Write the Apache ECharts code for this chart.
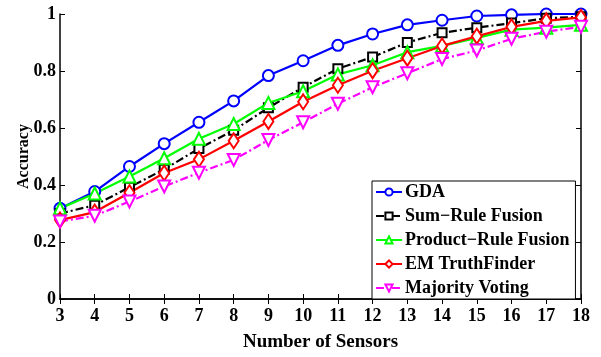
<!DOCTYPE html>
<html>
<head>
<meta charset="utf-8">
<script src="https://cdn.jsdelivr.net/npm/echarts@6/dist/echarts.min.js"></script>
<style>html,body{margin:0;padding:0;background:#fff}#c{width:601px;height:357px}</style>
</head>
<body>
<div id="c"></div>
<script>
var sensors = [3,4,5,6,7,8,9,10,11,12,13,14,15,16,17,18];
var gda      = [0.318,0.377,0.465,0.545,0.62,0.695,0.784,0.836,0.89,0.93,0.962,0.978,0.993,0.997,1.0,1.0];
var sumRule  = [0.300,0.329,0.392,0.455,0.528,0.592,0.671,0.743,0.808,0.849,0.900,0.934,0.952,0.968,0.985,0.990];
var product  = [0.318,0.370,0.430,0.494,0.562,0.614,0.688,0.729,0.788,0.820,0.866,0.888,0.916,0.945,0.952,0.962];
var emTF     = [0.277,0.305,0.373,0.442,0.490,0.555,0.623,0.692,0.750,0.801,0.845,0.888,0.922,0.955,0.976,0.988];
var majority = [0.272,0.292,0.342,0.395,0.443,0.488,0.558,0.620,0.685,0.743,0.792,0.842,0.872,0.913,0.938,0.955];
var yTicks = [0,0.2,0.4,0.6,0.8,1];
var seriesNames = ['GDA','Sum\u2212Rule Fusion','Product\u2212Rule Fusion','EM TruthFinder','Majority Voting'];

var font = '"Liberation Serif", "Times New Roman", serif';
function mk(name, data, color, symbol, size, dash, rot){
  return {
    name: name, type: 'line', data: data.map(function(v,i){return [sensors[i], v];}),
    symbol: symbol, symbolSize: size, symbolRotate: rot || 0, showAllSymbol: true,
    lineStyle: {color: color, width: 2.2, type: dash},
    itemStyle: {color: color, borderColor: color, borderWidth: 2},
    emphasis: {disabled: true}, animation: false
  };
}
var chart = echarts.init(document.getElementById('c'), null, {renderer:'canvas'});
var axisCommon = {
  axisLine: {show: true, lineStyle: {color: '#000', width: 1.5}},
  axisTick: {show: true, inside: true, length: 5, lineStyle: {color: '#000', width: 1}},
  splitLine: {show: false}
};
chart.setOption({
  backgroundColor: '#fff',
  animation: false,
  grid: {left: 60, right: 20, top: 14, bottom: 51},
  xAxis: [
    Object.assign({type: 'value', min: 3, max: 18, interval: 1, position: 'bottom',
      name: 'Number of Sensors', nameLocation: 'middle', nameGap: 34, nameMoveOverlap: false,
      nameTextStyle: {fontFamily: font, fontWeight: 'bold', fontSize: 19, color: '#000'},
      axisLabel: {fontFamily: font, fontWeight: 'bold', fontSize: 18, color: '#000', margin: 8}}, axisCommon),
    Object.assign({type: 'value', min: 3, max: 18, interval: 1, position: 'top',
      axisLabel: {show: false}}, axisCommon)
  ],
  yAxis: [
    Object.assign({type: 'value', min: 0, max: 1, interval: 0.2, position: 'left',
      name: 'Accuracy', nameLocation: 'middle', nameGap: 28, nameRotate: 90, nameMoveOverlap: false,
      nameTextStyle: {fontFamily: font, fontWeight: 'bold', fontSize: 16, color: '#000'},
      axisLabel: {fontFamily: font, fontWeight: 'bold', fontSize: 18, color: '#000', margin: 4,
        formatter: function(v){ return String(+v.toFixed(1)); }}}, axisCommon),
    Object.assign({type: 'value', min: 0, max: 1, interval: 0.2, position: 'right',
      axisLabel: {show: false}}, axisCommon)
  ],
  legend: {
    orient: 'vertical', left: 372, top: 181,
    backgroundColor: '#fff', borderColor: '#000', borderWidth: 1,
    padding: [2, 6, 2, 3], itemGap: 6, itemWidth: 26, itemHeight: 9,
    textStyle: {fontFamily: font, fontWeight: 'bold', fontSize: 18, color: '#000', padding: [0,0,0,-2]},
    data: seriesNames
  },
  series: [
    mk(seriesNames[0], gda, '#0000ff', 'emptyCircle', 11, 'solid'),
    mk(seriesNames[1], sumRule, '#000000', 'emptyRect', 9, [8,3,2,3]),
    mk(seriesNames[2], product, '#00ff00', 'emptyTriangle', 12, 'solid'),
    mk(seriesNames[3], emTF, '#ff0000', 'emptyDiamond', [10,15], 'solid'),
    mk(seriesNames[4], majority, '#ff00ff', 'emptyTriangle', 12, [8,3,2,3], 180)
  ]
});
</script>
</body>
</html>
